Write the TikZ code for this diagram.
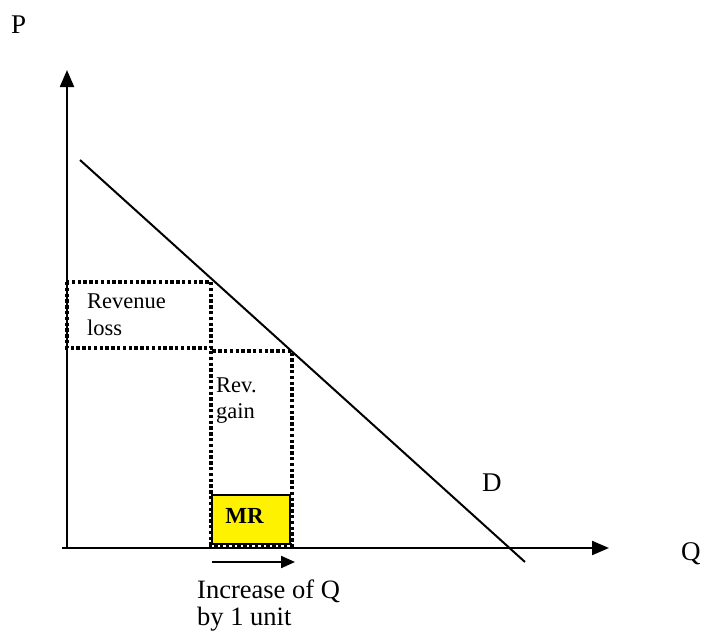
\documentclass[tikz,border=0pt]{standalone}
\usepackage{fontspec}
\setmainfont{Liberation Serif}
\usetikzlibrary{arrows.meta}
\begin{document}
\begin{tikzpicture}[x=1pt,y=-1pt,
  axis/.style={line width=2.2pt,-{Triangle[length=17pt,width=14pt]}},
  dotbox/.style={line width=3.6pt,dash pattern=on 3.4pt off 2.4pt},
  big/.style={font=\fontsize{27}{30}\selectfont,inner sep=0pt},
  small/.style={font=\fontsize{22.5}{26.5}\selectfont,inner sep=0pt,align=left}]
\useasboundingbox (0,0) rectangle (710,632);
\coordinate (o) at (67,548);
\coordinate (ytip) at (67,70);
\coordinate (xo) at (62,548);
\coordinate (xtip) at (609,548);
\draw[axis] (o) -- (ytip);
\draw[axis] (xo) -- (xtip);
\coordinate (d1) at (80,160);
\coordinate (d2) at (525,562);
\draw[line width=2pt] (d1) -- (d2);
\draw[dotbox] (67,282) rectangle (211,348);
\draw[dotbox] (211,351) rectangle (292,545);
\node[draw=black,line width=2.4pt,fill=yellow,minimum width=78pt,minimum height=49pt,anchor=north west,inner sep=0pt] (mr) at (211,494) {};
\node[font=\fontsize{23}{26}\selectfont\bfseries,inner sep=0pt,anchor=base] at (244.5,523) {MR};
\coordinate (a1) at (212,562);
\coordinate (a2) at (295,562);
\draw[line width=2.2pt,-{Triangle[length=14pt,width=12pt]}] (a1) -- (a2);
\node[big,anchor=base west] (p) at (11,33) {P};
\node[big,anchor=base west] (q) at (681,560) {Q};
\node[big,anchor=base west] (d) at (482,491) {D};
\node[small,anchor=base west] (rl) at (87,308) {Revenue};
\node[small,anchor=base west] (rl2) at (87,335) {loss};
\node[small,anchor=base west] (rg) at (216,392) {Rev.};
\node[small,anchor=base west] (rg2) at (216,418) {gain};
\node[font=\fontsize{26.5}{27}\selectfont,inner sep=0pt,anchor=base west] (inc) at (197,598) {Increase of Q};
\node[font=\fontsize{26.5}{27}\selectfont,inner sep=0pt,anchor=base west] (inc2) at (197,625) {by 1 unit};
\end{tikzpicture}
\end{document}
